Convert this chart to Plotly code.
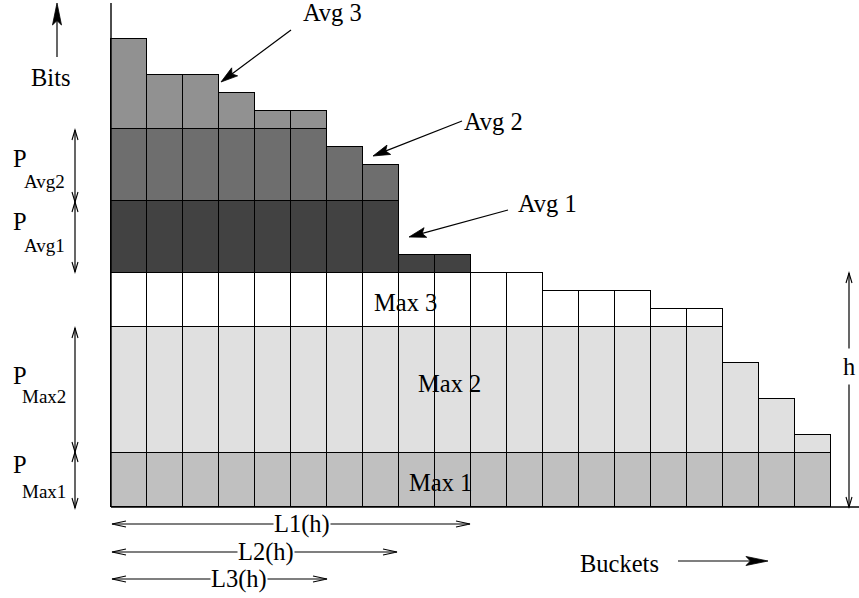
import math
import plotly.graph_objects as go

# ---------------- data (heights in "bit units" per bucket) ----------------
buckets = [1, 2, 3, 4, 5, 6, 7, 8, 9, 10, 11, 12, 13, 14, 15, 16, 17, 18, 19, 20]
max1 = [3, 3, 3, 3, 3, 3, 3, 3, 3, 3, 3, 3, 3, 3, 3, 3, 3, 3, 3, 3]
max2 = [7, 7, 7, 7, 7, 7, 7, 7, 7, 7, 7, 7, 7, 7, 7, 7, 7, 5, 3, 1]
max3 = [3, 3, 3, 3, 3, 3, 3, 3, 3, 3, 3, 3, 2, 2, 2, 1, 1, 0, 0, 0]
avg1 = [4, 4, 4, 4, 4, 4, 4, 4, 1, 1, 0, 0, 0, 0, 0, 0, 0, 0, 0, 0]
avg2 = [4, 4, 4, 4, 4, 4, 3, 2, 0, 0, 0, 0, 0, 0, 0, 0, 0, 0, 0, 0]
avg3 = [5, 3, 3, 2, 1, 1, 0, 0, 0, 0, 0, 0, 0, 0, 0, 0, 0, 0, 0, 0]

layer_names = ["Max 1", "Max 2", "Max 3", "Avg 1", "Avg 2", "Avg 3"]
layer_values = [max1, max2, max3, avg1, avg2, avg3]
layer_colors = ["#c0c0c0", "#e0e0e0", "#ffffff", "#424242", "#6e6e6e", "#919191"]

W, H = 859, 598
FONT = "Liberation Serif"

fig = go.Figure()
for name, vals, col in zip(layer_names, layer_values, layer_colors):
    fig.add_trace(go.Bar(
        x=buckets, y=[v if v > 0 else None for v in vals], name=name,
        marker=dict(color=col, line=dict(color="black", width=1.2)),
        width=1.0, showlegend=False, hoverinfo="skip",
    ))

# pixel helpers (plot area == whole figure)
def px(x):
    return x / W

def py(y):
    return 1 - y / H

shapes = []

def line(x0, y0, x1, y1, w=1.3):
    shapes.append(dict(type="line", xref="paper", yref="paper",
                       x0=px(x0), y0=py(y0), x1=px(x1), y1=py(y1),
                       line=dict(color="black", width=w)))

def path(pts, closed=False, fill=None, w=1.2):
    d = "M " + " L ".join(f"{px(a):.5f},{py(b):.5f}" for a, b in pts)
    if closed:
        d += " Z"
    s = dict(type="path", xref="paper", yref="paper", path=d,
             line=dict(color="black", width=w))
    if fill:
        s["fillcolor"] = fill
    shapes.append(s)

def chevron(tx, ty, dx, dy, L=10, half=3):
    n = math.hypot(dx, dy)
    ux, uy = dx / n, dy / n
    nx, ny = -uy, ux
    bx, by = tx - L * ux, ty - L * uy
    path([(bx + half * nx, by + half * ny), (tx, ty), (bx - half * nx, by - half * ny)], w=1.1)

def filled_arrow(x0, y0, x1, y1, L=16, half=4.5, w=1.2):
    n = math.hypot(x1 - x0, y1 - y0)
    ux, uy = (x1 - x0) / n, (y1 - y0) / n
    nx, ny = -uy, ux
    bx, by = x1 - L * ux, y1 - L * uy
    line(x0, y0, bx + 0.3 * L * ux, by + 0.3 * L * uy, w)
    nxp, nyp = x1 - 0.8 * L * ux, y1 - 0.8 * L * uy
    path([(x1, y1), (bx + half * nx, by + half * ny), (nxp, nyp),
          (bx - half * nx, by - half * ny)], closed=True, fill="black", w=0.8)

def dbl_v(x, y0, y1, L=10):
    line(x, y0, x, y1, 1.2)
    chevron(x, y0, 0, -1, L)
    chevron(x, y1, 0, 1, L)

def dbl_h(x0, x1, y, L=14):
    line(x0, y, x1, y, 1.2)
    chevron(x0, y, -1, 0, L)
    chevron(x1, y, 1, 0, L)

# axes
line(111, 3, 111, 507, 1.4)
line(111, 507, 859, 507, 1.4)

# left double arrows
dbl_v(75, 130, 202)
dbl_v(75, 202, 272)
dbl_v(75, 328, 452)
dbl_v(75, 452, 508)
# h arrow
dbl_v(849, 273, 507)
# L arrows
dbl_h(112, 470, 524)
dbl_h(112, 397, 552)
dbl_h(112, 327, 579)

# filled arrows
filled_arrow(57, 57, 57, 3, L=22, half=4.5)
filled_arrow(678, 561, 768, 561, L=22, half=4.5)
filled_arrow(291, 30, 221, 82, L=17, half=5)
filled_arrow(462, 121, 373, 156, L=17, half=5)
filled_arrow(508, 210, 409, 237, L=17, half=5)

annotations = []

def text(t, x, y, size=24.5, bg=None, pad=0):
    a = dict(text=t, x=px(x), y=py(y), xref="paper", yref="paper",
             xanchor="center", yanchor="middle", showarrow=False,
             font=dict(family=FONT, size=size, color="black"))
    if bg:
        a["bgcolor"] = bg
        a["borderpad"] = pad
    annotations.append(a)

text("Avg 3", 332, 13)
text("Avg 2", 493, 122)
text("Avg 1", 547, 203)
text("Max 3", 405, 302)
text("Max 2", 449.5, 383.5)
text("Max 1", 440, 482)
text("Bits", 50.5, 77)
text("Buckets", 619.5, 563)
text("h", 849, 366, bg="white", pad=4)
text("L1(h)", 301.5, 524, bg="white", pad=0)
text("L2(h)", 265.5, 552, bg="white", pad=0)
text("L3(h)", 239, 579, bg="white", pad=0)

# P labels with subscripts
for ptxt, sub, pyc, syc in [("P", "Avg2", 158, 181), ("P", "Avg1", 222, 245),
                            ("P", "Max2", 375, 396), ("P", "Max1", 464, 491)]:
    text(ptxt, 19.5, pyc)
    text(sub, 44, syc, size=19)

fig.update_layout(
    width=W, height=H, margin=dict(l=0, r=0, t=0, b=0),
    paper_bgcolor="white", plot_bgcolor="white",
    barmode="stack", bargap=0,
    xaxis=dict(range=[(0 - 93) / 36, (W - 93) / 36], visible=False, fixedrange=True),
    yaxis=dict(range=[-(H - 507) / 18, 507 / 18], visible=False, fixedrange=True),
    shapes=shapes, annotations=annotations,
)

fig.write_html("out.html", config={"displayModeBar": False},
               post_script="document.body.style.margin='0px';document.body.style.overflow='hidden';")
